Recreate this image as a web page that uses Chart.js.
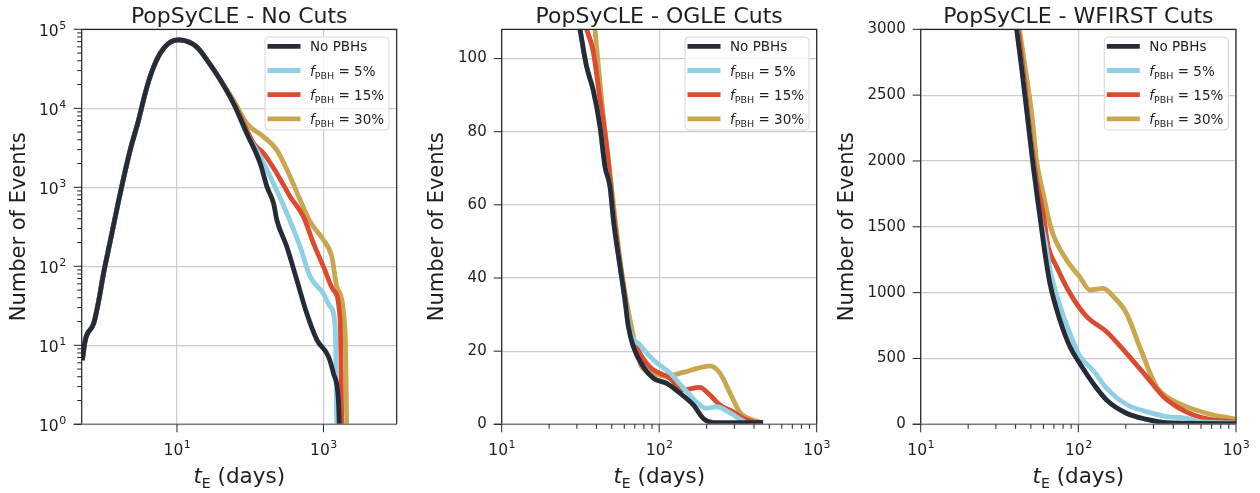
<!DOCTYPE html>
<html>
<head>
<meta charset="utf-8">
<script src="https://cdn.jsdelivr.net/npm/chart.js@4.4.1/dist/chart.umd.min.js"></script>
<style>
  body { margin: 0; background: #fff; }
  canvas { position: absolute; top: 0; }
</style>
</head>
<body>
<canvas id="noCuts" style="left:0px" width="420" height="493"></canvas>
<canvas id="ogle" style="left:420px" width="420" height="493"></canvas>
<canvas id="wfirst" style="left:830px" width="430" height="493"></canvas>
<script>
// values: t_E (days) -> number of events
const legendLabels = ['No PBHs', '5%', '15%', '30%'];
const lineColors = ['#262b38', '#8fd0e4', '#dc4b30', '#c9a74f'];

// No Cuts (log-log). all four curves share the rising part
const noCutsBaseT = [0.51, 0.56, 0.73, 0.85, 0.99, 1.23, 1.68, 2.3, 2.99, 3.68, 4.53, 5.9, 7.66, 10.5, 15.9, 19.6, 25.6, 38.9];
const noCutsBaseN = [6.5, 11.7, 19, 36, 80, 210, 840, 2970, 7100, 15500, 29000, 49700, 66500, 73600, 66500, 57000, 41000, 23000];
const noCutsNoPbhT = [59.2, 90, 137, 169, 208, 231, 316, 433, 594, 813, 1170, 1370, 1600, 1650];
const noCutsNoPbhN = [11500, 4800, 2000, 1020, 630, 385, 177, 67, 25, 11.7, 7.2, 4.4, 2.0, 0.9];
const noCuts5T = [59.2, 90, 137, 208, 316, 481, 657, 1000, 1233, 1445, 1523];
const noCuts5N = [11500, 4800, 2450, 1120, 470, 177, 74, 45, 31, 17, 0.9];
const noCuts15T = [59.2, 73, 111, 152, 231, 351, 533, 731, 1000, 1370, 1690, 1780];
const noCuts15N = [11800, 8000, 3600, 2700, 1500, 760, 425, 195, 99, 50, 21, 0.9];
const noCuts30T = [59.2, 90, 152, 231, 351, 481, 657, 1000, 1300, 1523, 1980, 2080];
const noCuts30N = [12600, 6400, 4370, 2960, 1360, 690, 367, 215, 132, 55, 14, 0.9];

// OGLE cuts (linear y)
const ogleNoPbhT = [31.4, 34.6, 38.1, 42.1, 45.3, 48.7, 51.2, 56.4, 60.6, 63.7, 68.5, 79.4, 91.9, 111.6, 135.6, 164.8, 190.6, 220, 457];
const ogleNoPbhN = [108, 97.8, 91.4, 81.4, 70.4, 65, 55.9, 43.1, 34, 26.7, 21.2, 15.7, 12.6, 11.2, 8.5, 5.3, 1.6, 0.45, 0.5];
const ogle5T = [31.4, 34.6, 38.1, 42.1, 45.3, 48.7, 51.2, 56.4, 60.6, 65.3, 75.5, 91.9, 117, 150, 200, 232, 282, 326, 350];
const ogle5N = [108, 97.8, 91.4, 81.4, 70.4, 65, 55.9, 43.1, 34, 25.5, 21.7, 17.6, 14, 8.9, 4.4, 4.8, 3.1, 1.4, 0.6];
const ogle15T = [34.6, 38.1, 42.1, 46.4, 51.2, 56.4, 60.6, 63.7, 73.6, 87.2, 117, 142, 181, 210, 243, 295, 342, 394];
const ogle15N = [108, 102, 88.7, 75.9, 58, 44, 35, 27.5, 20.3, 15.7, 12.6, 9.4, 10.1, 8.0, 5.3, 3.4, 1.6, 0.7];
const ogle30T = [39.1, 43.1, 48.7, 56.4, 60.6, 65.3, 77.4, 91.9, 111.6, 142, 175, 210, 243, 282, 326, 394, 437];
const ogle30N = [108, 88.7, 68.6, 45, 36, 28.5, 15.7, 13.9, 13.2, 14.2, 15.3, 16, 14, 8.5, 3.2, 1.2, 0.6];

// WFIRST cuts (linear y)
const wfirstNoPbhT = [40.6, 43.6, 47, 51.8, 57.1, 61.4, 66, 76.4, 88.5, 102, 124, 151, 202, 271, 363, 1000];
const wfirstNoPbhN = [3000, 2716, 2387, 1956, 1577, 1299, 1071, 792, 589, 463, 311, 185, 84, 38, 12, 5];
const wfirst5T = [40.6, 43.6, 47, 51.8, 57.1, 61.4, 66, 76.4, 88.5, 102, 124, 151, 202, 271, 363, 486, 590, 1000];
const wfirst5N = [3000, 2716, 2387, 1956, 1577, 1400, 1180, 900, 690, 520, 410, 275, 150, 96, 58, 46, 20, 10];
const wfirst15T = [41.5, 45, 49, 54.3, 59.8, 64.4, 72.8, 88.5, 113, 151, 202, 271, 346, 420, 536, 684, 1000];
const wfirst15N = [3000, 2650, 2250, 1855, 1603, 1349, 1197, 995, 817, 703, 539, 362, 210, 134, 71, 38, 18];
const wfirst30T = [42.3, 45.9, 50.6, 54.3, 59.8, 67.6, 84.2, 102, 118.5, 144, 167, 202, 245, 313, 363, 486, 652, 1000];
const wfirst30N = [3000, 2716, 2362, 2007, 1754, 1476, 1248, 1121, 1020, 1033, 969, 843, 589, 286, 210, 134, 84, 38];

const logDecadesX = [10, 100, 1000];
const noCutsXTicks = [10, 1000];
const noCutsYTicks = [1, 10, 100, 1000, 10000, 100000];
const ogleYTicks = [0, 20, 40, 60, 80, 100];
const wfirstYTicks = [0, 500, 1000, 1500, 2000, 2500, 3000];

const FONT = '"DejaVu Sans"';
Chart.defaults.font.family = FONT;

const pts = (t, n) => t.map((v, i) => ({ x: v, y: n[i] }));

// per-panel decoration (positions are in page px, converted per canvas)
const decor = {
  noCuts: { left: 0, title: 'PopSyCLE - No Cuts', yTitleX: 20, xMajor: noCutsXTicks, xMinor: false, yMajor: noCutsYTicks, yMinor: true, yPow: true },
  ogle: { left: 420, title: 'PopSyCLE - OGLE Cuts', yTitleX: 438, xMajor: logDecadesX, xMinor: true, yMajor: ogleYTicks, yMinor: false, yPow: false },
  wfirst: { left: 830, title: 'PopSyCLE - WFIRST Cuts', yTitleX: 848, xMajor: logDecadesX, xMinor: true, yMajor: wfirstYTicks, yMinor: false, yPow: false }
};

function minorValues(min, max) {
  const out = [];
  for (let e = Math.floor(Math.log10(min)); e <= Math.ceil(Math.log10(max)); e++) {
    for (let m = 2; m <= 9; m++) {
      const v = m * Math.pow(10, e);
      if (v > min * 1.0001 && v < max * 0.9999) out.push(v);
    }
  }
  return out;
}

function drawPow(ctx, v, x, y, align) {
  const exp = String(Math.round(Math.log10(v)));
  ctx.font = '15.5px ' + FONT;
  const w1 = ctx.measureText('10').width;
  ctx.font = '11px ' + FONT;
  const w2 = ctx.measureText(exp).width;
  const x0 = align === 'center' ? x - (w1 + w2) / 2 : x - (w1 + w2);
  ctx.textAlign = 'left';
  ctx.textBaseline = 'alphabetic';
  ctx.font = '15.5px ' + FONT;
  ctx.fillText('10', x0, y);
  ctx.font = '11px ' + FONT;
  ctx.fillText(exp, x0 + w1 + 0.5, y - 7);
}

// mixed-font text pieces: [text, font, dy]
function drawPieces(ctx, pieces, x, y, align) {
  let total = 0;
  pieces.forEach(p => { ctx.font = p[1]; total += ctx.measureText(p[0]).width; });
  let cx = align === 'center' ? x - total / 2 : x;
  ctx.textAlign = 'left';
  ctx.textBaseline = 'alphabetic';
  pieces.forEach(p => {
    ctx.font = p[1];
    ctx.fillText(p[0], cx, y + (p[2] || 0));
    cx += ctx.measureText(p[0]).width;
  });
}

const panelDecor = {
  id: 'panelDecor',
  afterDraw(chart) {
    const d = decor[chart.canvas.id];
    const ctx = chart.ctx;
    const a = chart.chartArea;
    const xs = chart.scales.x, ys = chart.scales.y;
    ctx.save();
    ctx.fillStyle = '#1e1e1e';

    // frame
    ctx.strokeStyle = '#222';
    ctx.lineWidth = 1.2;
    ctx.beginPath();
    ctx.moveTo(a.left, a.bottom);
    ctx.lineTo(a.left, a.top);
    ctx.lineTo(a.right, a.top);
    ctx.lineTo(a.right, a.bottom);
    ctx.stroke();
    ctx.strokeStyle = '#7d7d7d';
    ctx.lineWidth = 1.5;
    ctx.beginPath();
    ctx.moveTo(a.left - 8, a.bottom);
    ctx.lineTo(a.right, a.bottom);
    ctx.stroke();

    // tick marks
    ctx.strokeStyle = '#222';
    ctx.lineWidth = 1;
    ctx.beginPath();
    d.xMajor.forEach(v => { const px = xs.getPixelForValue(v); ctx.moveTo(px, a.bottom); ctx.lineTo(px, a.bottom + 8); });
    d.yMajor.forEach(v => { const py = ys.getPixelForValue(v); ctx.moveTo(a.left, py); ctx.lineTo(a.left - 8, py); });
    if (d.xMinor) minorValues(xs.min, xs.max).forEach(v => { const px = xs.getPixelForValue(v); ctx.moveTo(px, a.bottom); ctx.lineTo(px, a.bottom + 4.5); });
    if (d.yMinor) minorValues(ys.min, ys.max).forEach(v => { const py = ys.getPixelForValue(v); ctx.moveTo(a.left, py); ctx.lineTo(a.left - 4.5, py); });
    ctx.stroke();

    // power-of-ten tick labels
    d.xMajor.forEach(v => drawPow(ctx, v, xs.getPixelForValue(v), a.bottom + 31, 'center'));
    if (d.yPow) d.yMajor.forEach(v => drawPow(ctx, v, a.left - 16, ys.getPixelForValue(v) + 6.5, 'right'));

    // title
    const cx = (a.left + a.right) / 2;
    ctx.textAlign = 'center';
    ctx.textBaseline = 'alphabetic';
    ctx.font = '22px ' + FONT;
    ctx.fillText(d.title, cx, 23);

    // x title  t_E (days)
    drawPieces(ctx, [['t', 'italic 21.5px ' + FONT, 0], ['E', '14px ' + FONT, 5], [' (days)', '21.5px ' + FONT, 0]], cx, 483, 'center');

    // y title
    ctx.save();
    ctx.translate(d.yTitleX - d.left, (a.top + a.bottom) / 2);
    ctx.rotate(-Math.PI / 2);
    ctx.textAlign = 'center';
    ctx.textBaseline = 'middle';
    ctx.font = '21px ' + FONT;
    ctx.fillText('Number of Events', 0, 0);
    ctx.restore();

    // legend
    const bw = 124, bh = 93;
    const bx = a.right - 7.7 - bw, by = a.top + 7.7;
    ctx.beginPath();
    ctx.roundRect(bx, by, bw, bh, 4);
    ctx.fillStyle = 'rgba(255,255,255,0.8)';
    ctx.fill();
    ctx.strokeStyle = '#d6d6d6';
    ctx.lineWidth = 1;
    ctx.stroke();
    legendLabels.forEach((lab, i) => {
      const ry = by + 9.3 + i * 24.2;
      ctx.strokeStyle = lineColors[i];
      ctx.lineWidth = 4.8;
      ctx.beginPath();
      ctx.moveTo(bx + 2.5, ry);
      ctx.lineTo(bx + 35.5, ry);
      ctx.stroke();
      ctx.fillStyle = '#1e1e1e';
      if (i === 0) {
        drawPieces(ctx, [[lab, '13.5px ' + FONT, 0]], bx + 45, ry + 5, 'left');
      } else {
        drawPieces(ctx, [['f', 'italic 13.5px ' + FONT, 0], ['PBH', '9.5px ' + FONT, 3], [' = ' + lab, '13.5px ' + FONT, 0]], bx + 45, ry + 5, 'left');
      }
    });
    ctx.restore();
  }
};

function makePanel(id, series, xRange, yRange, yLog, yTicks, xTicks) {
  const d = decor[id];
  const canvas = document.getElementById(id);
  const areaLeft = id === 'wfirst' ? 920.7 : d.left + 81.7;
  const areaRight = id === 'wfirst' ? 1236 : d.left + 396.7;
  const grid = { color: '#cbcbcb', lineWidth: 1.2, drawTicks: false };
  return new Chart(canvas, {
    type: 'line',
    data: {
      datasets: series.map((s, i) => ({
        data: pts(s[0], s[1]),
        borderColor: lineColors[i],
        borderWidth: 4.8,
        pointRadius: 0,
        cubicInterpolationMode: 'monotone',
        borderJoinStyle: 'round',
        clip: 0
      }))
    },
    options: {
      responsive: false,
      animation: false,
      layout: { padding: { top: 29.3, right: d.left + canvas.width - areaRight, left: 0, bottom: 0 } },
      plugins: { legend: { display: false }, tooltip: { enabled: false } },
      scales: {
        x: {
          type: 'logarithmic', min: xRange[0], max: xRange[1],
          afterBuildTicks: s => { s.ticks = xTicks.map(v => ({ value: v })); },
          afterFit: s => { s.height = 493 - 424.3; },
          ticks: { display: false },
          grid: grid,
          border: { display: false }
        },
        y: {
          type: yLog ? 'logarithmic' : 'linear', min: yRange[0], max: yRange[1],
          afterBuildTicks: s => { s.ticks = yTicks.map(v => ({ value: v })); },
          afterFit: s => { s.width = areaLeft - d.left; },
          ticks: { display: !yLog, font: { size: 15, family: FONT }, color: '#1e1e1e', padding: 15, callback: v => String(v) },
          grid: grid,
          border: { display: false }
        }
      }
    },
    plugins: [panelDecor]
  });
}

makePanel('noCuts', [
  [noCutsBaseT.concat(noCutsNoPbhT), noCutsBaseN.concat(noCutsNoPbhN)],
  [noCutsBaseT.concat(noCuts5T), noCutsBaseN.concat(noCuts5N)],
  [noCutsBaseT.concat(noCuts15T), noCutsBaseN.concat(noCuts15N)],
  [noCutsBaseT.concat(noCuts30T), noCutsBaseN.concat(noCuts30N)]
], [0.5, 10000], [1, 100000], true, noCutsYTicks, noCutsXTicks);

makePanel('ogle', [
  [ogleNoPbhT, ogleNoPbhN], [ogle5T, ogle5N], [ogle15T, ogle15N], [ogle30T, ogle30N]
], [10, 1000], [0, 108], false, ogleYTicks, logDecadesX);

makePanel('wfirst', [
  [wfirstNoPbhT, wfirstNoPbhN], [wfirst5T, wfirst5N], [wfirst15T, wfirst15N], [wfirst30T, wfirst30N]
], [10, 1000], [0, 3000], false, wfirstYTicks, logDecadesX);
</script>
</body>
</html>
